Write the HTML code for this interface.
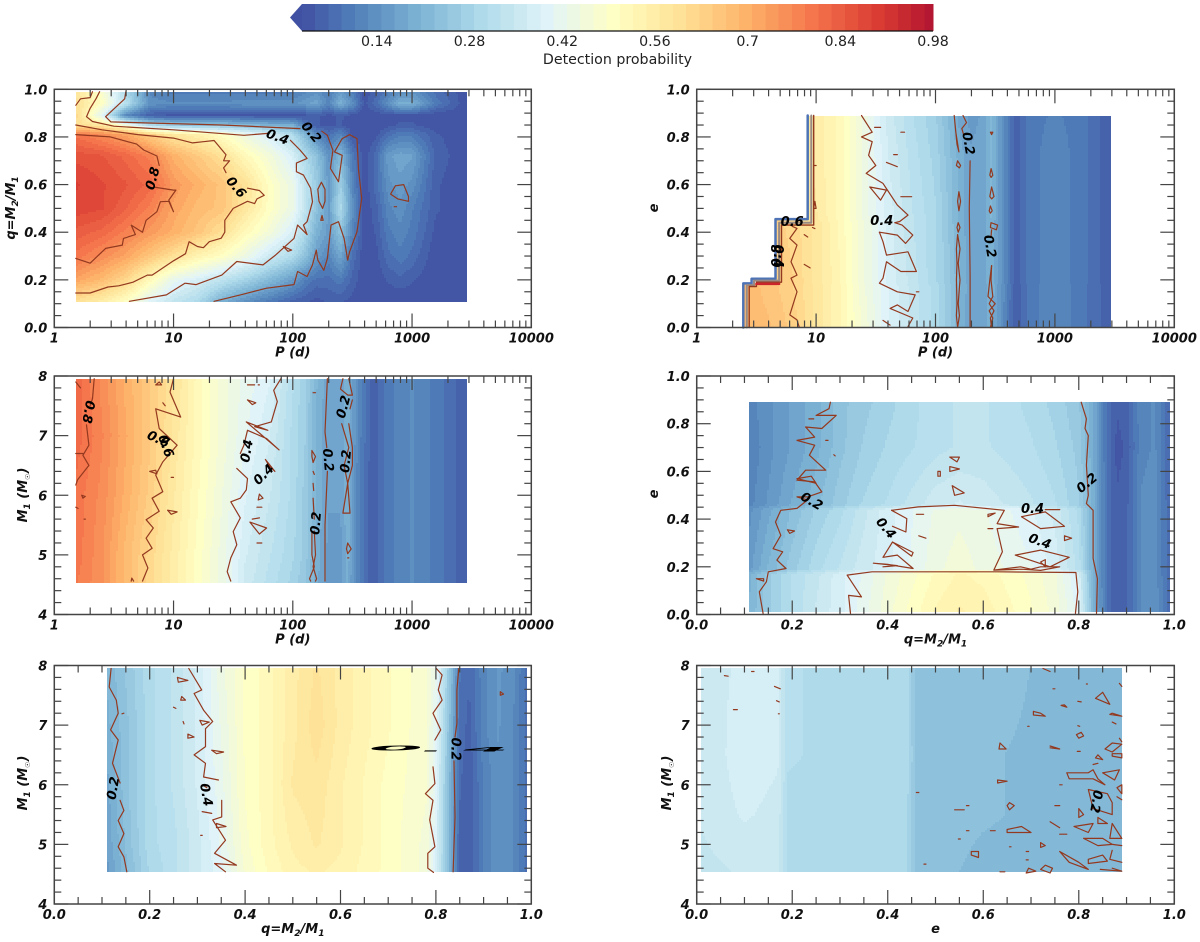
<!DOCTYPE html>
<html>
<head>
<meta charset="utf-8">
<title>Detection probability maps</title>
<style>
html,body{margin:0;padding:0;background:#fff;}
svg{display:block;}
text{font-family:"DejaVu Sans","Liberation Sans",sans-serif;}
.tick{font-weight:bold;font-style:italic;font-size:13px;fill:#111;}
.title{font-weight:bold;font-style:italic;font-size:13px;fill:#111;}
.clabel{font-style:italic;font-weight:600;font-size:13px;fill:#000;}
.cb{font-size:14.2px;fill:#222;}
</style>
</head>
<body>
<svg id="figure" width="1200" height="942" viewBox="0 0 1200 942" xmlns="http://www.w3.org/2000/svg"></svg>
<script>
/* ---------- colour bar ---------- */
const colorbarTicks = [0.14, 0.28, 0.42, 0.56, 0.7, 0.84, 0.98];
const colorbarTickLabels = ["0.14", "0.28", "0.42", "0.56", "0.7", "0.84", "0.98"];
const colorbarMin = 0.027;
const colorbarMax = 0.98;
const colorbarStep = 0.02;

/* ---------- shared tick values ---------- */
const logMajorTicks = [1, 10, 100, 1000, 10000];
const logMajorLabels = ["1", "10", "100", "1000", "10000"];
const logMinorFactors = [2, 3, 4, 5, 6, 7, 8, 9];
const unitMajorTicks = [0, 0.2, 0.4, 0.6, 0.8, 1.0];
const unitMajorLabels = ["0.0", "0.2", "0.4", "0.6", "0.8", "1.0"];
const unitMinorTicks = [0.05, 0.1, 0.15, 0.25, 0.3, 0.35, 0.45, 0.5, 0.55, 0.65, 0.7, 0.75, 0.85, 0.9, 0.95];
const massMajorTicks = [4, 5, 6, 7, 8];
const massMajorLabels = ["4", "5", "6", "7", "8"];
const massMinorTicks = [4.2, 4.4, 4.6, 4.8, 5.2, 5.4, 5.6, 5.8, 6.2, 6.4, 6.6, 6.8, 7.2, 7.4, 7.6, 7.8];

/* ---------- panel 1: q vs log P ---------- */
const p1LogP = [0.18, 0.4, 0.6, 0.8, 1.0, 1.2, 1.4, 1.6, 1.8, 2.0, 2.1, 2.2, 2.3, 2.4, 2.5, 2.6, 2.7, 2.8, 2.9, 3.0, 3.2, 3.46];
const p1Q = [0.99, 0.94, 0.89, 0.85, 0.81, 0.72, 0.60, 0.50, 0.40, 0.30, 0.20, 0.11];
const p1Values = [
[.58,.48,.30,.12,.10,.10,.10,.10,.10,.10,.12,.14,.10,.16,.10,.03,.06,.10,.14,.14,.08,.03],
[.60,.50,.32,.14,.13,.13,.13,.14,.14,.14,.16,.18,.12,.20,.14,.04,.08,.14,.20,.20,.10,.03],
[.62,.40,.12,.05,.04,.04,.04,.04,.04,.04,.04,.05,.04,.05,.04,.03,.03,.04,.04,.04,.03,.03],
[.60,.58,.45,.30,.25,.24,.23,.22,.20,.19,.10,.05,.04,.05,.03,.03,.03,.04,.05,.05,.03,.03],
[.80,.76,.72,.64,.58,.55,.50,.44,.38,.30,.22,.12,.08,.12,.04,.03,.04,.08,.10,.10,.05,.03],
[.86,.85,.82,.78,.70,.65,.60,.52,.46,.38,.30,.24,.14,.22,.10,.03,.08,.16,.18,.17,.06,.03],
[.89,.87,.85,.82,.74,.70,.66,.60,.50,.43,.34,.26,.16,.27,.12,.03,.08,.14,.16,.14,.05,.03],
[.88,.87,.83,.78,.72,.68,.66,.58,.50,.43,.34,.24,.16,.30,.14,.03,.06,.12,.14,.11,.05,.03],
[.84,.82,.78,.74,.70,.66,.60,.52,.46,.38,.30,.20,.16,.24,.12,.03,.05,.10,.12,.10,.04,.03],
[.80,.76,.72,.66,.60,.54,.50,.44,.36,.30,.24,.16,.12,.18,.08,.03,.04,.08,.10,.08,.03,.03],
[.72,.68,.62,.52,.42,.38,.33,.28,.22,.16,.11,.08,.08,.10,.06,.03,.03,.05,.06,.05,.03,.03],
[.60,.56,.50,.40,.34,.30,.20,.14,.10,.06,.05,.04,.05,.05,.04,.03,.03,.03,.03,.03,.03,.03]
];
const p1Contours = [
[.18,.81,.47,.80,.69,.77,.75,.745,.86,.72,.88,.68],
[.83,.59,1.0,.577,1.02,.577,.96,.535,1.0,.486,.96,.53,.89,.528,.86,.486,.77,.45,.74,.40,.645,.43,.68,.39,.58,.374,.57,.346,.43,.332,.30,.27,.18,.29],
[.18,.85,.4,.83,.7,.81,1.0,.795,1.16,.775,1.25,.78,1.34,.785,1.44,.725,1.42,.70,1.47,.70,1.42,.67,1.44,.65],
[1.62,.585,1.72,.575,1.76,.555,1.7,.54,1.68,.52,1.62,.53,1.5,.5,1.43,.45,1.43,.40,1.4,.375,1.3,.36,1.25,.335,1.2,.34,1.13,.36,1.1,.31,1.0,.28,.85,.23,.82,.22,.78,.22,.66,.19,.54,.175,.45,.17,.3,.145,.18,.145],
[.18,.933,.22,.96,.3,.965,.32,.99],
[.38,.99,.35,.96,.30,.92,.27,.885,.32,.865,.5,.845,1.0,.83,1.59,.807,1.79,.815],
[1.98,.786,2.06,.745,2.12,.71,2.03,.69,2.03,.654,2.09,.64,2.15,.584,2.165,.528,2.12,.444,2.09,.43,2.12,.39,2.04,.43,2.01,.374,1.855,.304,1.75,.263,1.53,.277,1.405,.22,1.19,.18,1.095,.186,.94,.137,.63,.11],
[1.92,.34,1.99,.325,1.96,.32,1.92,.34],
[.6,.99,.59,.96,.43,.885,.475,.863,1.405,.85,2.06,.835],
[2.243,.824,2.29,.807,2.336,.744,2.315,.668,2.383,.612,2.414,.723,2.35,.737,2.414,.793,2.476,.81,2.538,.793,2.55,.668,2.578,.542,2.538,.402,2.476,.318,2.46,.283,2.43,.374,2.383,.444,2.32,.43,2.29,.29,2.26,.24,2.21,.283,2.197,.325,2.165,.263,2.12,.214,2.04,.235,2.01,.18,1.78,.165,1.56,.137,1.34,.11],
[2.24,.61,2.27,.58,2.27,.53,2.25,.50,2.22,.53,2.21,.58,2.24,.61],
[2.245,.47,2.255,.45,2.235,.45,2.245,.47],
[2.86,.595,2.93,.6,2.97,.55,2.97,.53,2.88,.54,2.82,.56,2.86,.595],
[2.85,.507,2.87,.507]
];
const p1Labels = [["0.8",.83,.625,-75],["0.6",1.52,.587,50],["0.4",1.87,.797,20],["0.2",2.15,.818,50]];

/* ---------- panel 2: e vs log P ---------- */
const p2LogP = [0.39, 0.6, 0.8, 1.0, 1.2, 1.4, 1.6, 1.8, 2.0, 2.1, 2.2, 2.3, 2.4, 2.47, 2.55, 2.67, 2.8, 3.0, 3.2, 3.47];
const p2E = [0.89, 0.70, 0.46, 0.44, 0.19, 0.17, 0.01];
const p2Values = [
[.60,.60,.60,.56,.52,.44,.36,.31,.27,.23,.18,.16,.17,.21,.15,.05,.10,.11,.10,.05],
[.62,.62,.61,.56,.52,.44,.37,.32,.28,.24,.20,.17,.18,.21,.15,.05,.10,.12,.10,.05],
[.64,.64,.62,.57,.52,.44,.38,.33,.29,.25,.20,.17,.18,.21,.15,.05,.10,.12,.10,.05],
[.65,.64,.62,.58,.52,.45,.38,.33,.29,.25,.20,.17,.18,.20,.15,.05,.10,.12,.10,.05],
[.66,.65,.63,.58,.53,.45,.38,.34,.29,.26,.21,.17,.18,.20,.15,.05,.10,.12,.10,.05],
[.68,.66,.63,.58,.53,.45,.39,.34,.30,.26,.21,.17,.18,.20,.15,.05,.10,.12,.10,.05],
[.68,.67,.64,.58,.53,.46,.39,.34,.30,.26,.20,.17,.18,.20,.14,.05,.10,.12,.10,.05]
];
const p2MaskTopE = [0.185, 0.455, 0.89];
const p2MaskMinLogP = [0.39, 0.66, 0.93];
const p2EdgeOuter = [.39,0,.39,.185,.46,.185,.46,.205,.66,.205,.66,.455,.93,.455,.93,.89];
const p2EdgeInnerA = [.42,0,.42,.178,.48,.178,.48,.197,.69,.197,.69,.44,.96,.44,.96,.89];
const p2EdgeInnerB = [.44,0,.44,.172,.50,.172,.50,.19,.71,.19,.71,.43,.98,.43,.98,.89];
const p2HotStrip = [.5,.183,.69,.183];
const p2Contours = [
[.86,0,.84,.032,.78,.053,.84,.15,.79,.207,.84,.22,.79,.276,.84,.346,.78,.374,.84,.416,.80,.425],
[1.38,.89,1.47,.82,1.38,.80,1.47,.78,1.44,.723,1.5,.68,1.42,.647,1.56,.605,1.68,.514,1.77,.472,1.70,.445,1.66,.44],
[1.53,.40,1.68,.388,1.75,.353,1.81,.388,1.72,.43,1.66,.44],
[1.53,.40,1.56,.36,1.59,.304,1.77,.318,1.84,.235,1.71,.235,1.59,.276,1.56,.207,1.53,.186,1.68,.15,1.83,.137,1.77,.067,1.68,.095,1.62,.08,1.81,.04,1.77,.004],
[1.45,.59,1.59,.577,1.54,.535,1.45,.59],
[1.49,.84,1.54,.84],[1.71,.82,1.74,.82],[1.65,.726,1.68,.726],[1.59,.693,1.68,.675],[1.71,.549,1.8,.549],[1.56,.03,1.62,.01],[1.84,.15,1.86,.15],
[.98,.68,1.0,.68],[.99,.53,1.0,.50,.98,.50,.99,.53],[.97,.42,.99,.415],[.9,.39,.93,.38],[.9,.265,.95,.25],
[2.157,.89,2.17,.82,2.196,.737,2.18,.77,2.157,.89],
[2.185,.70,2.21,.68,2.2,.67,2.175,.68,2.185,.70],
[2.196,.57,2.21,.53,2.196,.49,2.185,.53,2.196,.57],
[2.19,.44,2.205,.42,2.19,.40,2.18,.42,2.19,.44],
[2.185,.39,2.205,.33,2.19,.27,2.205,.2,2.19,.1,2.2,.05,2.185,0,2.175,.05,2.18,.1,2.175,.2,2.18,.27,2.175,.33,2.185,.39],
[2.29,.70,2.283,.5,2.29,.22,2.29,.004],
[2.23,.89,2.26,.86,2.22,.835,2.235,.81],
[2.46,.82,2.48,.82,2.47,.81,2.46,.82],
[2.466,.667,2.48,.64,2.466,.63,2.455,.64,2.466,.667],
[2.47,.59,2.49,.55,2.47,.54,2.455,.55,2.47,.59],
[2.46,.51,2.475,.49,2.46,.48,2.45,.49,2.46,.51],
[2.465,.44,2.52,.43,2.51,.41,2.46,.42,2.465,.44],
[2.465,.38,2.47,.41],
[2.47,.26,2.465,.2,2.48,.13,2.45,.1,2.49,.07,2.46,.04,2.47,0],
[2.47,.26,2.455,.2,2.44,.13,2.5,.1,2.45,.07,2.48,.04,2.46,0]
];
const p2Labels = [["0.6",.80,.44,0],["0.4",1.55,.444,0],["0.2",2.27,.772,80],["0.2",2.45,.34,80],["0.4",.675,.30,90],["0.8",.675,.30,-90]];

/* ---------- panel 3: M1 vs log P ---------- */
const p3LogP = [0.18, 0.4, 0.6, 0.8, 1.0, 1.2, 1.4, 1.6, 1.8, 2.0, 2.1, 2.2, 2.3, 2.4, 2.46, 2.55, 2.67, 2.8, 3.0, 3.2, 3.46];
const p3Mass = [7.95, 7, 6, 5, 4.55];
const p3Values = [
[.82,.76,.70,.65,.59,.52,.46,.42,.39,.31,.27,.21,.17,.17,.21,.12,.05,.10,.13,.10,.05],
[.82,.77,.71,.65,.58,.52,.46,.41,.37,.30,.27,.20,.17,.17,.21,.12,.05,.10,.13,.10,.05],
[.80,.76,.70,.64,.57,.51,.45,.39,.35,.30,.26,.20,.17,.17,.20,.11,.05,.10,.13,.10,.05],
[.80,.75,.68,.62,.56,.50,.44,.37,.33,.29,.26,.20,.16,.16,.20,.11,.05,.10,.13,.10,.05],
[.79,.75,.68,.62,.56,.50,.44,.36,.32,.28,.25,.19,.16,.16,.19,.11,.05,.10,.13,.10,.05]
];
const p3Contours = [
[.335,7.955,.32,7.62,.30,7.5],[.27,7.18,.29,6.84,.24,6.67,.29,6.5,.195,6.26,.18,6.17],
[.18,7.9,.22,7.8],[.18,6.7,.24,6.7],[.23,6.0,.26,5.98,.24,5.95,.23,6.0],[.18,5.8,.2,5.78],[.25,5.6,.26,5.6],
[1.0,7.955,.97,7.73,1.06,7.31,.85,7.45,.88,7.12,1.03,6.84,.91,6.56,.85,6.34,.91,6.06,.82,5.95,.88,5.73,.77,5.59,.83,5.45,.77,5.28,.82,5.11,.74,5.0,.785,4.78,.74,4.56],
[.645,4.56,.65,4.61,.665,4.56],[.85,7.85,.88,7.9,.9,7.85,.85,7.85],[.91,7.55,.93,7.5],[.8,6.4,.85,6.42,.86,6.36,.8,6.4],[.95,5.75,1.03,5.72,.98,5.68,.95,5.75],[.98,6.3,1.0,6.3],
[1.9,7.955,1.84,7.76,1.87,7.57,1.82,7.23,1.68,7.15,1.79,7.09,1.61,7.23,1.885,6.76,1.78,6.95,1.62,7.09,1.59,6.84,1.56,6.7],
[1.53,6.45,1.62,6.28,1.61,6.09,1.56,5.95,1.48,5.89,1.56,5.62,1.5,5.39,1.53,5.17,1.48,4.95,1.45,4.72,1.48,4.56],
[1.77,6.6,1.85,6.4,1.8,6.5,1.77,6.6],[1.62,7.6,1.69,7.55,1.66,7.52,1.62,7.6],[1.62,7.85,1.68,7.85],[1.71,7.85,1.72,7.85],
[1.72,6.02,1.75,5.95,1.71,5.92,1.72,6.02],[1.7,5.8,1.74,5.8],[1.66,5.6,1.72,5.62],[1.64,5.55,1.72,5.35,1.78,5.45,1.64,5.55],[1.7,5.2,1.74,5.2],
[2.29,7.955,2.27,7.06,2.285,6.8],[2.29,6.4,2.27,5.5,2.27,4.56],
[2.17,7.72,2.19,7.72],[2.16,6.75,2.19,6.65,2.17,6.55,2.16,6.65,2.16,6.75],[2.17,6.4,2.18,6.35],[2.17,6.2,2.175,6.08],[2.17,5.95,2.18,5.6],
[2.18,5.4,2.19,5.0,2.17,4.8,2.2,4.6,2.19,4.56],[2.16,5.4,2.16,5.0,2.18,4.8,2.14,4.6,2.15,4.56],
[2.42,7.955,2.40,7.78,2.46,7.68,2.5,7.68,2.47,7.955],[2.5,7.6,2.48,7.45],
[2.41,7.2,2.47,6.8,2.43,6.5,2.46,6.2,2.42,5.7,2.48,5.7,2.46,6.2,2.5,6.5,2.5,6.8,2.47,7.2],
[2.46,5.2,2.49,5.1,2.46,5.02,2.45,5.1,2.46,5.2],[2.46,4.95,2.47,4.95]
];
const p3Labels = [["0.8",.28,7.4,100],["0.6",.87,6.93,25],["0.6",.93,6.82,70],["0.4",1.62,6.74,-80],["0.4",1.76,6.34,-45],["0.2",2.29,6.59,85],["0.2",2.45,6.57,-85],["0.2",2.2,5.53,-85],["0.2",2.43,7.48,-75]];

/* ---------- panel 4: e vs q ---------- */
const p4Q = [.11, .15, .2, .25, .3, .35, .4, .5, .55, .6, .7, .75, .8, .83, .86, .88, .9, .93, .96, .99];
const p4E = [0.89, 0.70, 0.46, 0.44, 0.19, 0.17, 0.01];
const p4Values = [
[.12,.14,.17,.20,.24,.26,.28,.32,.33,.33,.30,.28,.25,.19,.08,.05,.06,.12,.13,.07],
[.11,.14,.17,.20,.24,.27,.29,.32,.33,.33,.31,.29,.26,.19,.08,.04,.05,.12,.13,.07],
[.12,.15,.19,.22,.26,.29,.31,.36,.37,.36,.33,.31,.27,.20,.08,.05,.06,.13,.14,.07],
[.14,.18,.23,.27,.30,.34,.38,.43,.44,.43,.39,.36,.30,.20,.08,.05,.06,.13,.14,.07],
[.16,.21,.26,.30,.33,.36,.38,.44,.46,.44,.41,.38,.32,.20,.08,.05,.06,.13,.14,.07],
[.20,.26,.31,.34,.38,.41,.45,.51,.53,.52,.48,.45,.38,.20,.08,.05,.06,.13,.14,.07],
[.21,.26,.31,.35,.38,.42,.46,.53,.55,.54,.49,.46,.40,.21,.08,.05,.06,.13,.14,.08]
];
const p4Contours = [
[.28,.89,.277,.863,.25,.835,.292,.835,.262,.78,.228,.786,.247,.744,.21,.73,.247,.71,.236,.668,.27,.605,.228,.605,.21,.563,.247,.556,.262,.514,.232,.493,.21,.493,.232,.48,.21,.445,.176,.437,.165,.388,.176,.332,.16,.276,.18,.263,.168,.228,.187,.193,.15,.179,.146,.137,.131,.095,.139,.004],
[.21,.57,.24,.58,.25,.55,.21,.57],[.235,.82,.245,.82],[.27,.73,.275,.73],[.287,.67,.29,.665],[.19,.355,.205,.35,.195,.34,.19,.355],[.125,.15,.14,.15,.14,.14,.125,.15],
[.805,.89,.816,.82,.813,.78,.82,.75,.816,.626,.82,.5,.816,.465,.83,.437,.83,.235,.839,.15,.837,.004],
[.322,.004,.318,.08,.345,.074,.315,.165,.367,.179,.42,.179,.63,.179,.794,.176,.798,.095,.793,.004],
[.408,.437,.464,.451,.54,.458,.644,.437,.629,.381,.674,.367,.629,.36,.64,.263,.622,.186,.678,.2,.70,.19,.72,.2,.76,.2,.72,.185,.68,.19,.622,.186],
[.408,.437,.44,.402,.438,.346,.41,.37],[.41,.304,.453,.26,.45,.245,.41,.304,.39,.24,.42,.249,.453,.193,.40,.21,.37,.215,.42,.205,.39,.2],
[.68,.41,.72,.36,.77,.37,.73,.43,.68,.41],[.667,.249,.72,.27,.78,.24,.74,.2,.667,.249],[.73,.44,.76,.44],
[.46,.42,.475,.42],[.61,.36,.62,.36],[.61,.42,.625,.425,.61,.41,.61,.42],[.465,.33,.48,.32],[.77,.33,.785,.32,.77,.31,.77,.33],[.72,.22,.73,.23,.73,.2,.72,.22],
[.53,.66,.55,.66,.545,.64,.53,.66],[.53,.62,.55,.61,.53,.6,.53,.62],[.505,.6,.51,.6,.51,.58,.505,.58,.505,.6],[.535,.54,.56,.51,.54,.5,.535,.54]
];
const p4Labels = [["0.2",.24,.472,30],["0.2",.818,.549,-40],["0.4",.703,.441,0],["0.4",.395,.36,50],["0.4",.718,.304,20]];

/* ---------- panel 5: M1 vs q ---------- */
const p5Q = [.11, .15, .2, .25, .3, .35, .4, .45, .5, .55, .6, .7, .78, .8, .83, .85, .87, .9, .93, .96, .99];
const p5Mass = [7.95, 7, 6, 5, 4.55];
const p5Values = [
[.21,.25,.30,.33,.37,.44,.49,.52,.56,.59,.56,.51,.47,.42,.24,.09,.07,.12,.15,.14,.08],
[.20,.24,.30,.33,.37,.43,.49,.52,.56,.60,.56,.51,.47,.41,.22,.08,.06,.12,.15,.13,.08],
[.18,.24,.30,.33,.37,.42,.49,.52,.57,.58,.55,.50,.47,.40,.20,.07,.05,.11,.14,.13,.08],
[.17,.23,.30,.32,.36,.41,.48,.52,.55,.57,.55,.50,.46,.39,.20,.06,.05,.11,.14,.13,.08],
[.16,.22,.29,.32,.36,.40,.47,.51,.54,.55,.54,.50,.46,.38,.20,.06,.05,.11,.14,.13,.08]
];
const p5Contours = [
[.119,7.95,.115,7.64,.13,7.42,.134,7.2,.118,6.92,.134,6.75,.122,6.36,.138,6.03],[.138,5.74,.146,5.57,.134,5.4,.146,5.18,.134,4.96,.146,4.79,.152,4.54],[.142,7.19,.146,7.2],
[.282,7.95,.309,7.59,.293,7.53,.313,7.25,.332,7.06,.317,6.94,.317,6.64,.293,6.5,.317,6.36,.313,6.13,.344,6.08],[.351,5.74,.351,5.46,.332,5.41,.359,5.07,.336,4.85,.382,4.65,.336,4.68,.359,4.54],
[.258,7.8,.28,7.75,.26,7.72,.258,7.8],[.267,7.48,.275,7.42,.265,7.42,.267,7.48],[.25,7.3,.255,7.28],[.27,7.06,.272,7.02],[.305,7.08,.325,7.05,.31,7.0,.305,7.08],[.28,6.85,.293,6.8,.28,6.78,.28,6.85],[.33,6.58,.355,6.55,.34,6.52,.33,6.58],[.31,6.0,.32,5.95],[.31,5.55,.33,5.52],[.34,5.35,.36,5.3,.34,5.28,.34,5.35],[.307,5.15,.31,5.15],
[.801,7.95,.813,7.84,.805,7.59,.813,7.42,.794,7.2,.81,6.92,.798,6.75],[.794,6.3,.798,6.02,.778,5.85,.794,5.74,.787,5.41,.798,4.96,.783,4.85,.783,4.6,.795,4.53],
[.848,7.95,.844,7.59,.844,7.03,.84,6.8],[.838,6.4,.84,5.46,.836,4.54],[.935,7.56,.942,7.52,.935,7.5,.935,7.56]
];
const p5Labels = [["0.2",.125,5.94,-80],["0.4",.317,5.83,80],["0",.716,6.61,0,6,.55],["-",.79,6.58,0,3,.6],["0.2",.84,6.6,90],["4",.905,6.6,0,5,.5]];

/* ---------- panel 6: M1 vs e ---------- */
const p6E = [.01, .1, .17, .19, .3, .44, .46, .6, .75, .89];
const p6Mass = [7.95, 6.5, 5.5, 4.55];
const p6Values = [
[.36,.37,.37,.31,.30,.30,.23,.24,.22,.22],
[.35,.38,.37,.31,.30,.30,.24,.23,.22,.21],
[.35,.37,.36,.30,.30,.29,.24,.23,.22,.21],
[.34,.35,.35,.30,.29,.29,.24,.22,.22,.21]
];
const p6Contours = [
[.058,7.83,.066,7.82],[.115,7.9,.12,7.9],[.163,7.65,.175,7.61],[.167,7.41,.173,7.39],[.077,7.26,.085,7.26],[.171,7.19,.173,7.19],
[.746,7.61,.75,7.61],[.816,7.69,.818,7.69],[.798,7.4,.805,7.39],[.763,7.33,.775,7.3,.77,7.34,.763,7.33],[.705,7.23,.72,7.2,.73,7.15,.705,7.17,.705,7.23],[.693,6.98,.696,6.98],[.798,6.99,.802,6.98],[.795,6.84,.805,6.88,.81,6.82,.8,6.78,.795,6.84],
[.635,6.7,.648,6.6,.633,6.6,.635,6.7],[.74,6.65,.76,6.6,.74,6.62],[.797,6.56,.803,6.56],[.84,6.5,.85,6.42,.835,6.45,.84,6.5],[.83,6.34,.84,6.36],
[.85,7.55,.865,7.35,.835,7.45,.85,7.55],[.87,7.2,.89,7.15,.865,7.18,.87,7.2],[.87,7.05,.878,7.02],[.885,7.7,.89,7.65],[.885,6.78,.89,6.72],[.855,6.6,.87,6.7,.89,6.68,.87,6.55,.855,6.6],[.87,6.52,.89,6.52,.89,6.45,.87,6.48,.87,6.52],[.85,6.2,.885,6.25,.875,6.08,.85,6.2],
[.775,6.2,.82,6.2,.83,6.25,.84,6.1,.855,6.0,.83,6.1,.78,6.1,.775,6.2],[.76,6.0,.765,6.0],[.63,6.08,.65,6.06,.63,6.03,.63,6.08],[.46,5.87,.465,5.87],
[.82,5.92,.86,5.85,.87,5.7,.87,5.5,.83,5.6,.82,5.92],[.655,5.7,.665,5.65,.655,5.58,.65,5.65,.655,5.7],[.75,5.65,.76,5.65],[.54,5.58,.56,5.58],[.565,5.65,.57,5.65],
[.8,5.6,.81,5.5,.8,5.45,.8,5.6],[.84,5.45,.86,5.35,.84,5.35,.84,5.45],[.88,5.8,.89,5.75],[.88,5.95,.89,6.0,.89,5.85,.88,5.95],[.74,5.38,.76,5.28],[.79,5.3,.83,5.35,.82,5.2,.79,5.3],[.87,5.35,.89,5.1,.865,5.1,.87,5.35],
[.65,5.25,.68,5.3,.7,5.2,.65,5.2,.65,5.25],[.615,5.23,.625,5.23],[.565,5.23,.57,5.23],[.548,5.09,.552,5.09],[.76,5.17,.775,5.17],[.72,5.03,.73,4.98,.72,4.95,.72,5.03],
[.81,5.1,.85,5.1,.87,5.0,.84,4.98,.81,5.1],[.575,4.88,.59,4.88,.59,4.78,.575,4.82,.575,4.88],[.655,4.96,.658,4.96],[.69,4.88,.695,4.88],[.69,4.74,.694,4.74],[.476,4.67,.48,4.67],
[.76,4.88,.78,4.7,.82,4.58,.8,4.7,.76,4.88],[.82,4.75,.85,4.82,.86,4.72,.82,4.68,.82,4.75],[.87,5.0,.89,4.98],[.87,4.9,.865,4.75,.89,4.7],[.695,4.6,.71,4.55,.69,4.52,.695,4.6],[.73,4.65,.745,4.6,.74,4.52,.72,4.58,.73,4.65],[.635,4.54,.645,4.54],[.845,4.58,.89,4.55,.87,4.6],[.725,7.95,.74,7.9]
];
const p6Labels = [["0.2",.835,5.72,100]];

/* ---------- rendering helpers ---------- */
const NS = "http://www.w3.org/2000/svg";
const fig = document.getElementById("figure");
const cmapStops = ["#313695","#4575b4","#74add1","#abd9e9","#e0f3f8","#ffffbf","#fee090","#fdae61","#f46d43","#d73027","#a50026"];
function hexRgb(h){return [parseInt(h.substr(1,2),16),parseInt(h.substr(3,2),16),parseInt(h.substr(5,2),16)];}
function cmap(v){
  const t=Math.max(0,Math.min(0.9999,v))*10, i=Math.floor(t), f=t-i;
  const a=hexRgb(cmapStops[i]), b=hexRgb(cmapStops[i+1]);
  const c=[0,1,2].map(k=>Math.round((a[k]+(b[k]-a[k])*f)*0.95+255*0.05));
  return "rgb("+c.join(",")+")";
}
function bandColor(v){
  const k=Math.max(0,Math.floor((v-colorbarMin)/colorbarStep));
  return cmap(colorbarMin+(k+0.5)*colorbarStep);
}
function mk(tag,attrs,parent){
  const el=document.createElementNS(NS,tag);
  for(const k in attrs) el.setAttribute(k,attrs[k]);
  (parent||fig).appendChild(el);
  return el;
}
function locate(arr,v){
  for(let i=0;i<arr.length-1;i++){
    const lo=Math.min(arr[i],arr[i+1]), hi=Math.max(arr[i],arr[i+1]);
    if(v>=lo&&v<=hi) return [i,(v-arr[i])/(arr[i+1]-arr[i])];
  }
  return v<=Math.min(arr[0],arr[arr.length-1]) ? (arr[0]<arr[1]?[0,0]:[arr.length-2,1]) : (arr[0]<arr[1]?[arr.length-2,1]:[0,0]);
}
function sample(xs,ys,vals,x,y){
  const a=locate(xs,x), b=locate(ys,y);
  const v00=vals[b[0]][a[0]], v01=vals[b[0]][a[0]+1], v10=vals[b[0]+1][a[0]], v11=vals[b[0]+1][a[0]+1];
  return (v00*(1-a[1])+v01*a[1])*(1-b[1])+(v10*(1-a[1])+v11*a[1])*b[1];
}

function drawPanel(c){
  const g=mk("g",{});
  
  
  const sx=v=>c.left+(v-c.xDom[0])/(c.xDom[1]-c.xDom[0])*(c.right-c.left);
  const sy=v=>c.bottom-(v-c.yDom[0])/(c.yDom[1]-c.yDom[0])*(c.bottom-c.top);
  const xMin=Math.min(...c.xs), xMax=Math.max(...c.xs), yMin=Math.min(...c.ys), yMax=Math.max(...c.ys);
  const heat=mk("g",{"shape-rendering":"crispEdges"},g);
  
  
  const yBot=c.heatBottom!==undefined?c.heatBottom:yMin;
  const pxTop=Math.round(sy(yMax)), pxBot=Math.round(sy(yBot));
  const pxL=Math.round(sx(xMin)), pxR=Math.round(sx(xMax));
  const xOf=p=>c.xDom[0]+(p-c.left)/(c.right-c.left)*(c.xDom[1]-c.xDom[0]);
  const yOf=p=>c.yDom[0]+(c.bottom-p)/(c.bottom-c.top)*(c.yDom[1]-c.yDom[0]);
  for(let py=pxTop;py<pxBot;py+=2){
    const yv=yOf(py+1);
    let start=pxL;
    if(c.maskTop){
      for(let m=0;m<c.maskTop.length;m++){ if(yv<=c.maskTop[m]){ start=Math.round(sx(c.maskMin[m])); break; } }
    }
    let runStart=start, runColor=null;
    const flush=end=>{
      if(!runColor) return;
      const cell=mk("rect",{x:runStart,y:py,width:end-runStart,height:2,fill:runColor},heat);
      
      
    };
    for(let px=start;px<pxR;px+=2){
      const col=bandColor(sample(c.xs,c.ys,c.values,xOf(px+1),yv));
      if(col!==runColor){
        flush(px);
        runStart=px; runColor=col;
      }
    }
    flush(pxR);
  }
  const path=(flat,stroke,w,name)=>{
    const pts=[];
    for(let i=0;i<flat.length;i+=2) pts.push(sx(flat[i]).toFixed(1)+","+sy(flat[i+1]).toFixed(1));
    const el=mk("polyline",{points:pts.join(" "),fill:"none",stroke:stroke,"stroke-width":w,"stroke-linejoin":"round","stroke-linecap":"round"},g);
    
    
  };
  (c.edges||[]).forEach(e=>path(e[0],e[1],e[2],'mask-edge'));
  c.contours.forEach(l=>path(l,"#93391f",1.2,'contour-line'));
  c.labels.forEach(l=>{
    const x=sx(l[1]), y=sy(l[2]);
    const sc=l[4]?" scale("+l[4]+","+l[5]+")":"";
    const t=mk("text",{class:"clabel",x:0,y:0,"text-anchor":"middle","dominant-baseline":"central",transform:"translate("+x.toFixed(1)+","+y.toFixed(1)+") rotate("+l[3]+")"+sc},g);
    t.textContent=l[0];
    
    
  });
  /* axis frame */
  const frame=mk("rect",{x:c.left,y:c.top,width:c.right-c.left,height:c.bottom-c.top,fill:"none",stroke:"#444","stroke-width":1.5},g);
  
  
  const tick=(x1,y1,x2,y2,name)=>{
    const el=mk("line",{x1:x1,y1:y1,x2:x2,y2:y2,stroke:"#444","stroke-width":1.2},g);
    
    
  };
  const xt=(v,len)=>{const x=sx(v);tick(x,c.bottom,x,c.bottom-len,'x-tick');tick(x,c.top,x,c.top+len,'x-tick');};
  const yt=(v,len)=>{const y=sy(v);tick(c.left,y,c.left+len,y,'y-tick');tick(c.right,y,c.right-len,y,'y-tick');};
  const tl=(txt,x,y,anchor,name)=>{
    const t=mk("text",{class:"tick",x:x,y:y,"text-anchor":anchor},g);
    t.textContent=txt;
    
    
  };
  c.xMajor.forEach((v,i)=>{xt(v,14);tl(c.xMajorLabels[i],sx(v),c.bottom+15,"middle",'x-tick-label');});
  c.xMinor.forEach(v=>xt(v,7));
  c.yMajor.forEach((v,i)=>{yt(v,14);tl(c.yMajorLabels[i],c.left-7,sy(v)+5,"end",'y-tick-label');});
  c.yMinor.forEach(v=>yt(v,7));
  /* axis titles */
  const xTitle=mk("text",{class:"title",x:(c.left+c.right)/2,y:c.bottom+29,"text-anchor":"middle"},g);
  xTitle.innerHTML=c.xTitle;
  
  
  const yTitle=mk("text",{class:"title",x:0,y:0,"text-anchor":"middle",transform:"translate("+c.yTitleX+","+c.yTitleY+") rotate(-90)"},g);
  yTitle.innerHTML=c.yTitle;
  
  
}

/* colour bar */
(function(){
  const left=302, right=933, top=4, bottom=31;
  const sx=v=>right-(colorbarMax-v)/(colorbarMax-colorbarMin)*(right-left);
  const g=mk("g",{});
  
  
  const tip=mk("polygon",{points:"290,17.5 "+left+","+top+" "+left+","+bottom,fill:cmap(colorbarMin)},g);
  
  
  const bands=mk("g",{"shape-rendering":"crispEdges"},g);
  for(let v=colorbarMin;v<colorbarMax-1e-6;v+=colorbarStep){
    const x1=sx(v), x2=sx(Math.min(colorbarMax,v+colorbarStep));
    const r=mk("rect",{x:x1.toFixed(1),y:top,width:(x2-x1+0.6).toFixed(1),height:bottom-top,fill:cmap(v+colorbarStep/2)},bands);
    
    
  }
  const base=mk("line",{x1:left,y1:bottom,x2:right,y2:bottom,stroke:"#111","stroke-width":1.3},g);
  
  
  colorbarTicks.forEach((v,i)=>{
    const t=mk("text",{class:"cb",x:sx(v),y:46,"text-anchor":"middle"},g);
    t.textContent=colorbarTickLabels[i];
    
    
  });
  const title=mk("text",{class:"cb",x:617.5,y:64,"text-anchor":"middle"},g);
  title.textContent="Detection probability";
  
  
})();

const logTickPos=logMajorTicks.map(v=>Math.log10(v));
const logMinorPos=[];
logMajorTicks.slice(0,4).forEach(d=>logMinorFactors.forEach(f=>logMinorPos.push(Math.log10(d*f))));
const qTitle='q=M<tspan dy="3" font-size="9">2</tspan><tspan dy="-3">/M</tspan><tspan dy="3" font-size="9">1</tspan>';
const massTitle='M<tspan dy="3" font-size="9">1</tspan><tspan dy="-3"> (M</tspan><tspan dy="3" font-size="7">☉</tspan><tspan dy="-3">)</tspan>';
const L=[54.3,531.3], R=[696.7,1174.3];
const logX={xDom:[0,4],xMajor:logTickPos,xMajorLabels:logMajorLabels,xMinor:logMinorPos};
const unitX={xDom:[0,1],xMajor:unitMajorTicks,xMajorLabels:unitMajorLabels,xMinor:unitMinorTicks};
const unitY={yDom:[0,1],yMajor:unitMajorTicks,yMajorLabels:unitMajorLabels,yMinor:unitMinorTicks};
const massY={yDom:[4,8],yMajor:massMajorTicks,yMajorLabels:massMajorLabels,yMinor:massMinorTicks};

drawPanel(Object.assign({name:'panel-q-vs-period',left:L[0],right:L[1],top:89.3,bottom:327.5,xs:p1LogP,ys:p1Q,values:p1Values,contours:p1Contours,labels:p1Labels,xTitle:'P (d)',yTitle:qTitle,yTitleX:15,yTitleY:208},logX,unitY));
drawPanel(Object.assign({name:'panel-e-vs-period',left:R[0],right:R[1],top:89.3,bottom:327.5,xs:p2LogP,ys:p2E,values:p2Values,heatBottom:0,maskTop:p2MaskTopE,maskMin:p2MaskMinLogP,contours:p2Contours,labels:p2Labels,edges:[[p2EdgeOuter,"#4f74b5",2.5],[p2EdgeInnerA,"#9a8a84",2],[p2EdgeInnerB,"#93391f",1.4],[p2HotStrip,"#c9252b",2.5]],xTitle:'P (d)',yTitle:'e',yTitleX:658,yTitleY:208},logX,unitY));
drawPanel(Object.assign({name:'panel-m1-vs-period',left:L[0],right:L[1],top:376,bottom:614.5,xs:p3LogP,ys:p3Mass,values:p3Values,contours:p3Contours,labels:p3Labels,xTitle:'P (d)',yTitle:massTitle,yTitleX:27,yTitleY:495},logX,massY));
drawPanel(Object.assign({name:'panel-e-vs-q',left:R[0],right:R[1],top:376,bottom:614.5,xs:p4Q,ys:p4E,values:p4Values,contours:p4Contours,labels:p4Labels,xTitle:qTitle,yTitle:'e',yTitleX:658,yTitleY:494},unitX,unitY));
drawPanel(Object.assign({name:'panel-m1-vs-q',left:L[0],right:L[1],top:665.5,bottom:904,xs:p5Q,ys:p5Mass,values:p5Values,contours:p5Contours,labels:p5Labels,xTitle:qTitle,yTitle:massTitle,yTitleX:27,yTitleY:783},unitX,massY));
drawPanel(Object.assign({name:'panel-m1-vs-e',left:R[0],right:R[1],top:665.5,bottom:904,xs:p6E,ys:p6Mass,values:p6Values,contours:p6Contours,labels:p6Labels,xTitle:'e',yTitle:massTitle,yTitleX:671,yTitleY:783},unitX,massY));
</script>
</body>
</html>
